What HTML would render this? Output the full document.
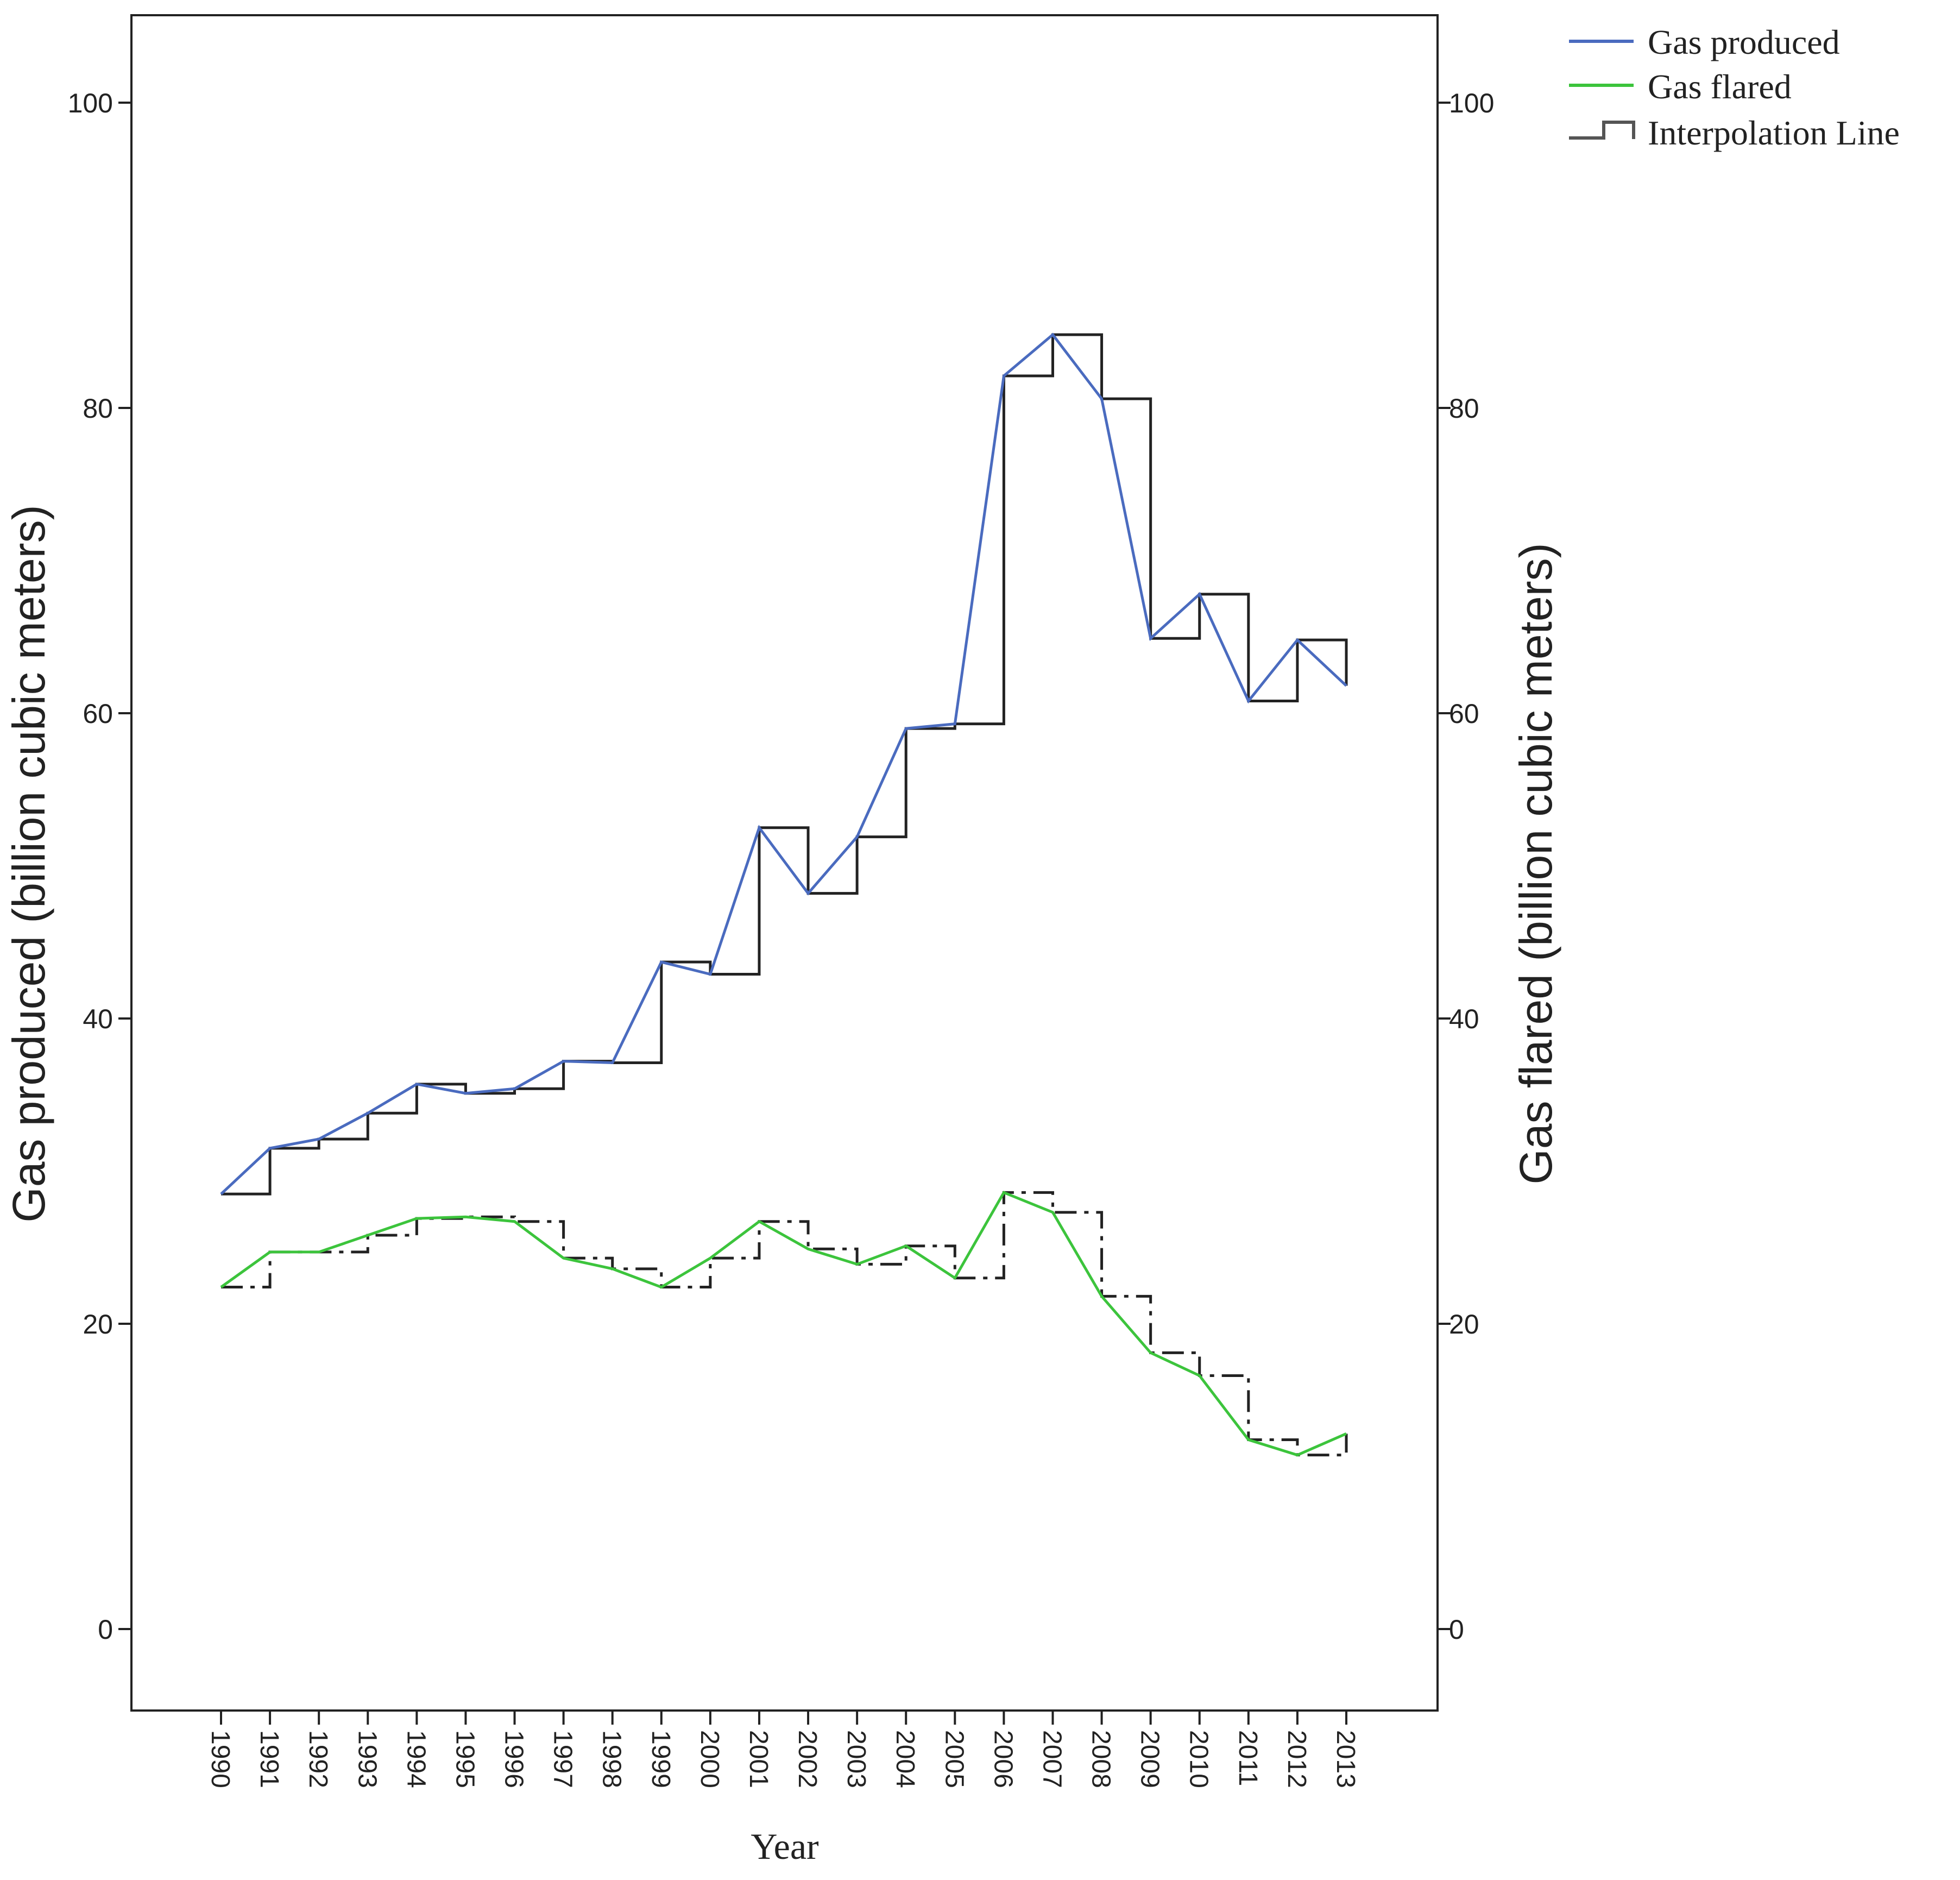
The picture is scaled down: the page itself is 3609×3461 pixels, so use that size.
<!DOCTYPE html>
<html><head><meta charset="utf-8"><style>
html,body{margin:0;padding:0;background:#fff}
svg{display:block}
text{font-family:"Liberation Sans",sans-serif;fill:#222}
.serif{font-family:"Liberation Serif",serif}
</style></head><body>
<svg id="chart" width="3609" height="3461" viewBox="0 0 3609 3461" xmlns="http://www.w3.org/2000/svg">
<rect x="242" y="28" width="2405" height="3121" fill="#fff" stroke="#222" stroke-width="4"/>
<g id="axes"></g>
<g id="series"></g>
<text transform="translate(82,1590) rotate(-90)" text-anchor="middle" font-size="84">Gas produced (billion cubic meters)</text>
<text transform="translate(2857,1590) rotate(-90)" text-anchor="middle" font-size="84">Gas flared (billion cubic meters)</text>
<text class="serif" x="1445" y="3422" text-anchor="middle" font-size="68">Year</text>
<g>
<line x1="2889" y1="76" x2="3008" y2="76" stroke="#4a6bbf" stroke-width="6"/>
<text class="serif" x="3034" y="99" font-size="64">Gas produced</text>
<line x1="2889" y1="157" x2="3008" y2="157" stroke="#3cc43c" stroke-width="6"/>
<text class="serif" x="3034" y="181" font-size="64">Gas flared</text>
<path d="M2889 254 H2953 V225 H3008 V256" fill="none" stroke="#555" stroke-width="6"/>
<text class="serif" x="3034" y="266" font-size="64">Interpolation Line</text>
</g>
</svg>
<script>
const years=[1990,1991,1992,1993,1994,1995,1996,1997,1998,1999,2000,2001,2002,2003,2004,2005,2006,2007,2008,2009,2010,2011,2012,2013];
const produced=[28.5,31.5,32.1,33.8,35.7,35.1,35.4,37.2,37.1,43.7,42.9,52.5,48.2,51.9,59.0,59.3,82.1,84.8,80.6,64.9,67.8,60.8,64.8,61.8];
const flared=[22.4,24.7,24.7,25.8,26.9,27.0,26.7,24.3,23.6,22.4,24.3,26.7,24.9,23.9,25.1,23.0,28.6,27.3,21.8,18.1,16.6,12.4,11.4,12.8];
const yTicks=[0,20,40,60,80,100];
const NS="http://www.w3.org/2000/svg";
const X=i=>407+(2479-407)*i/(years.length-1);
const Y=v=>2999-(2999-189)*v/100;
function mk(tag,attrs,parent,txt){const e=document.createElementNS(NS,tag);for(const k in attrs)e.setAttribute(k,attrs[k]);if(txt!==undefined)e.textContent=txt;parent.appendChild(e);return e;}
const axes=document.getElementById('axes'),ser=document.getElementById('series');
yTicks.forEach(t=>{
 const y=Y(t);
 let a=mk('line',{x1:218,y1:y,x2:242,y2:y,stroke:'#222','stroke-width':4},axes);
 
 
 let b=mk('text',{x:208,y:y+18,'text-anchor':'end','font-size':50},axes,t);
 
 
 let c=mk('line',{x1:2647,y1:y,x2:2671,y2:y,stroke:'#222','stroke-width':4},axes);
 
 
 let d=mk('text',{x:2668,y:y+18,'font-size':50},axes,t);
 
 
});
years.forEach((yr,i)=>{
 const x=X(i);
 let a=mk('line',{x1:x,y1:3149,x2:x,y2:3175,stroke:'#222','stroke-width':4},axes);
 
 
 let b=mk('text',{transform:`translate(${x-17},3185) rotate(90)`,'font-size':48},axes,yr);
 
 
});
function step(vals){let d=`M${X(0)} ${Y(vals[0])}`;for(let i=1;i<vals.length;i++){d+=` H${X(i)} V${Y(vals[i])}`;}return d;}
function line(vals){return vals.map((v,i)=>(i?'L':'M')+X(i)+' '+Y(v)).join(' ');}
let s1=mk('path',{d:step(produced),fill:'none',stroke:'#222','stroke-width':5},ser);


let s2=mk('path',{d:step(flared),fill:'none',stroke:'#222','stroke-width':5,'stroke-dasharray':'40 14 8 14'},ser);


let p=mk('path',{d:line(produced),fill:'none',stroke:'#4a6bbf','stroke-width':5},ser);


let f=mk('path',{d:line(flared),fill:'none',stroke:'#3cc43c','stroke-width':5},ser);


</script>
</body></html>
